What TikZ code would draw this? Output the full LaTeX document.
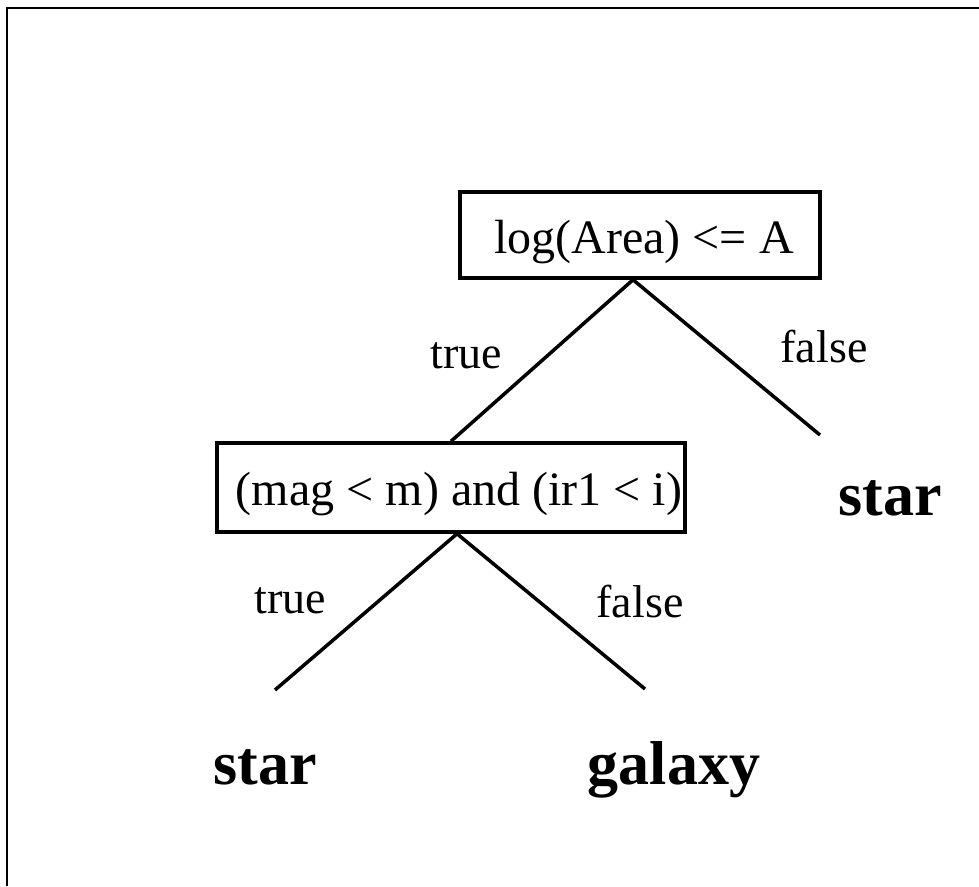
\documentclass[tikz,border=0pt]{standalone}
\usepackage{fontspec}
\setmainfont{Liberation Serif}
\tikzset{
  testbox/.style={draw, line width=3.5pt, inner sep=0pt, font=\fontsize{48}{56}\selectfont, text height=40pt, text depth=4pt},
  branch/.style={line width=3.5pt},
  lbl/.style={anchor=base, inner sep=0pt, font=\fontsize{46}{54}\selectfont},
  leaf/.style={anchor=base, inner sep=0pt, font=\fontsize{62}{70}\selectfont\bfseries},
}
\begin{document}
\begin{tikzpicture}[x=1pt, y=-1pt]
\useasboundingbox (0,0) rectangle (979,886);
\draw[line width=2pt] (7,886) -- (7,7.5) -- (979,7.5);

\node[testbox, minimum width=360pt, minimum height=86pt] (top) at (640,235) {\hspace*{8pt}log(Area) <= A};
\node[testbox, minimum width=468pt, minimum height=89pt] (mid) at (451,487.5) {\hspace*{16pt}(mag < m) and (ir1 < i)};

\coordinate (r1) at (820,435);
\coordinate (l2) at (275,690);
\coordinate (r2) at (645,689);

\draw[branch] ([xshift=-7pt]top.south) -- (mid.north);
\draw[branch] ([xshift=-7pt]top.south) -- (r1);
\draw[branch] ([xshift=6pt]mid.south) -- (l2);
\draw[branch] ([xshift=6pt]mid.south) -- (r2);

\node[lbl] (t1) at (466,368) {true};
\node[lbl] (f1) at (824,362) {false};
\node[lbl] (t2) at (290,613) {true};
\node[lbl] (f2) at (640,617) {false};

\node[leaf] (star1) at (890,515) {star};
\node[leaf] (star2) at (265,784) {star};
\node[leaf] (gal) at (674,784) {galaxy};
\end{tikzpicture}
\end{document}
